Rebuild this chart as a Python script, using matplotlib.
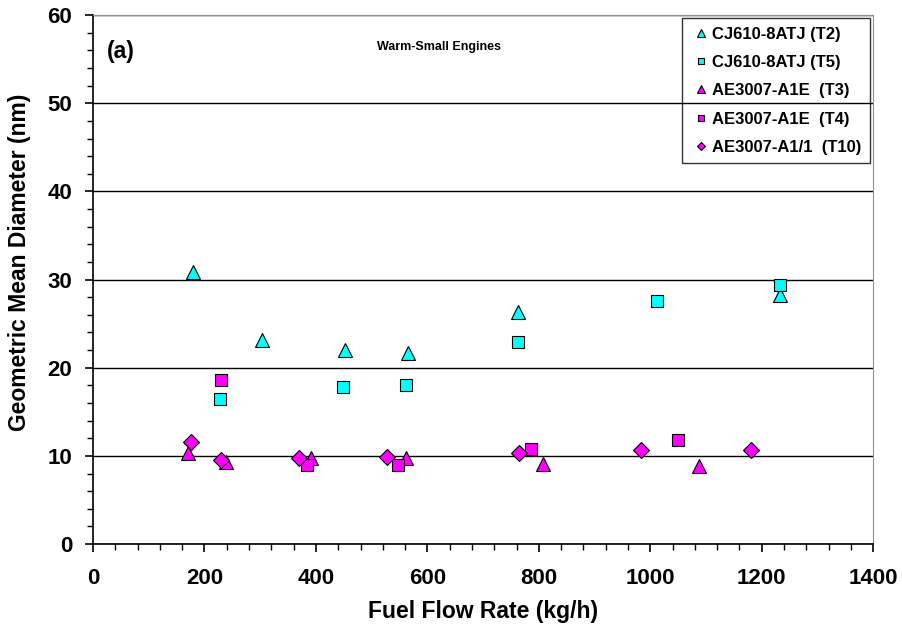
import matplotlib
matplotlib.use("Agg")
import matplotlib.pyplot as plt
from matplotlib.ticker import MultipleLocator

plt.rcParams['font.family'] = ['Liberation Sans', 'DejaVu Sans']
plt.rcParams['font.weight'] = 'bold'

# CJ610-8ATJ (T2)
t2_x = [180, 304, 452, 566, 763, 1232]
t2_y = [30.9, 23.2, 22.0, 21.7, 26.3, 28.3]
# CJ610-8ATJ (T5)
t5_x = [227, 448, 562, 763, 1012, 1232]
t5_y = [16.5, 17.8, 18.0, 22.9, 27.6, 29.4]
# AE3007-A1E (T3)
t3_x = [171, 238, 391, 562, 808, 1088]
t3_y = [10.3, 9.3, 9.8, 9.8, 9.1, 8.8]
# AE3007-A1E (T4)
t4_x = [229, 384, 548, 786, 1050]
t4_y = [18.6, 9.0, 9.0, 10.8, 11.85]
# AE3007-A1/1 (T10)
t10_x = [176, 229, 369, 528, 765, 984, 1180]
t10_y = [11.6, 9.5, 9.8, 9.9, 10.3, 10.7, 10.7]

series = [
    (t2_x, t2_y, "^", "#00FFFF", "CJ610-8ATJ (T2)"),
    (t5_x, t5_y, "s", "#00FFFF", "CJ610-8ATJ (T5)"),
    (t3_x, t3_y, "^", "#FF00FF", "AE3007-A1E  (T3)"),
    (t4_x, t4_y, "s", "#FF00FF", "AE3007-A1E  (T4)"),
    (t10_x, t10_y, "D", "#FF00FF", "AE3007-A1/1  (T10)"),
]
sizes = {"^": 9.5, "s": 9, "D": 8.2}

fig = plt.figure(figsize=(9.03, 6.35), dpi=100)
ax = fig.add_axes([0.103, 0.1433, 0.864, 0.8327])

ax.set_axisbelow(True)
ax.yaxis.grid(True, which="major", color="black", linewidth=1.0)

for x, y, m, c, lab in series:
    ax.plot(x, y, linestyle="none", marker=m, markersize=sizes[m],
            markerfacecolor=c, markeredgecolor="black", markeredgewidth=0.8,
            label=lab, zorder=3)

ax.set_xlim(0, 1400)
ax.set_ylim(0, 60)
ax.xaxis.set_major_locator(MultipleLocator(200))
ax.xaxis.set_minor_locator(MultipleLocator(40))
ax.yaxis.set_major_locator(MultipleLocator(10))
ax.yaxis.set_minor_locator(MultipleLocator(2))
ax.tick_params(which="both", direction="out", labelsize=16)
ax.tick_params(which="major", length=6, width=1.2)
ax.tick_params(which="minor", length=4, width=1.0)
ax.tick_params(axis="x", pad=11)
ax.tick_params(axis="y", pad=9)
for lab in ax.get_xticklabels() + ax.get_yticklabels():
    lab.set_fontweight("bold")

for s in ["top", "right"]:
    ax.spines[s].set_color("#909090")
for s in ["left", "bottom"]:
    ax.spines[s].set_linewidth(1.2)

ax.set_xlabel("Fuel Flow Rate (kg/h)", fontsize=16.5, fontweight="bold", labelpad=8)
ax.set_ylabel("Geometric Mean Diameter (nm)", fontsize=16.5, fontweight="bold")
ax.yaxis.set_label_coords(-0.079, 0.533)

ax.text(0.018, 0.92, "(a)", transform=ax.transAxes, fontsize=16.5, fontweight="bold")
ax.text(0.444, 0.935, "Warm-Small Engines", transform=ax.transAxes, fontsize=9,
        fontweight="bold", ha="center")

leg = ax.legend(loc="upper right", bbox_to_anchor=(1.006, 1.01), fontsize=12,
                markerscale=0.55, handletextpad=0.0, handlelength=1.3,
                labelspacing=0.8, borderpad=0.5, fancybox=False,
                edgecolor="black")
leg.get_frame().set_linewidth(1.0)
leg.get_frame().set_facecolor("none")
for t in leg.get_texts():
    t.set_fontweight("bold")

fig.savefig("out.png", dpi=100)
